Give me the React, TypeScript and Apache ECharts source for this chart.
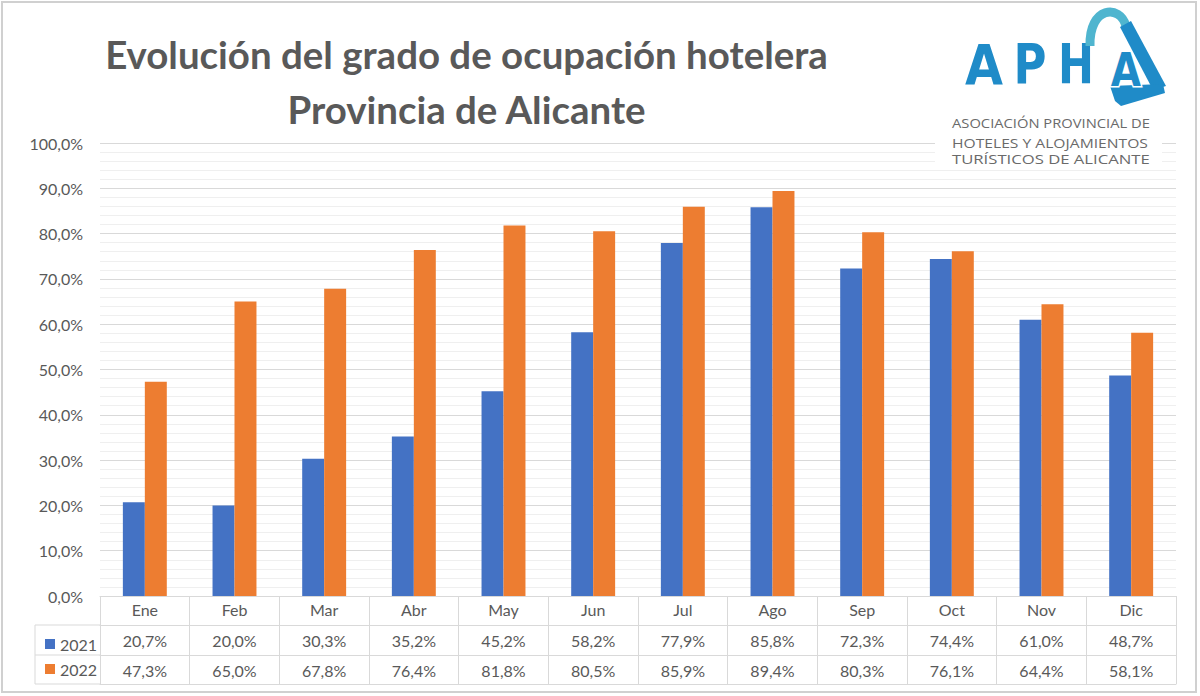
import React, { useEffect, useRef } from "react";
import * as echarts from "echarts";

const months = ["Ene", "Feb", "Mar", "Abr", "May", "Jun", "Jul", "Ago", "Sep", "Oct", "Nov", "Dic"];
const values2021 = [20.7, 20.0, 30.3, 35.2, 45.2, 58.2, 77.9, 85.8, 72.3, 74.4, 61.0, 48.7];
const values2022 = [47.3, 65.0, 67.8, 76.4, 81.8, 80.5, 85.9, 89.4, 80.3, 76.1, 64.4, 58.1];
const seriesNames = ["2021", "2022"];
const titleLines = ["Evolución del grado de ocupación hotelera", "Provincia de Alicante"];
const logoLetters = ["A", "P", "H"];
const logoLines = ["ASOCIACIÓN PROVINCIAL DE", "HOTELES Y ALOJAMIENTOS", "TURÍSTICOS DE ALICANTE"];

const fmt = (v: number) => v.toFixed(1).replace(".", ",") + "%";

function measure(text: string, font: string): number {
  const c = document.createElement("canvas").getContext("2d");
  if (!c) return 1;
  c.font = font;
  return c.measureText(text).width || 1;
}

const TXT = "#595959";
const GRIDC = "#d9d9d9";
const FONT = "Lato, 'Open Sans', sans-serif";
const LOGO_BLUE = "#1f8bc8";

export default function App() {
  const ref = useRef<HTMLDivElement>(null);
  useEffect(() => {
    if (!ref.current) return;
    const chart = echarts.init(ref.current, null, { renderer: "svg" });

    const titleFont = "bold 39px Lato";
    const tScale = 723 / measure(titleLines[0], titleFont);
    const logoTargets = [198, 196, 198];
    const letterTargets = [38, 33, 36];

    const graphic: any[] = [
      {
        type: "rect",
        shape: { x: 2, y: 2, width: 1194, height: 690 },
        style: { fill: "none", stroke: "#d0d0d0", lineWidth: 2 },
        z: 100,
      },
      ...titleLines.map((t, i) => ({
        type: "text",
        x: 466.5,
        y: i === 0 ? 34 : 89,
        scaleX: tScale,
        z: 100,
        style: {
          text: t,
          fontFamily: "Lato",
          fontWeight: "bold",
          fontSize: 39,
          fill: TXT,
          textAlign: "center",
          align: "center",
          textVerticalAlign: "top",
          verticalAlign: "top",
        },
      })),
      // logo background
      {
        type: "rect",
        shape: { x: 935, y: 8, width: 227, height: 162 },
        style: { fill: "#ffffff" },
        z: 100,
      },
      ...logoLetters.map((l, i) => ({
        type: "text",
        x: [984, 1030, 1076][i],
        y: 64,
        scaleX: letterTargets[i] / measure(l, "bold 56px DejaVu Sans"),
        z: 101,
        style: {
          text: l,
          fontFamily: "DejaVu Sans",
          fontWeight: "bold",
          fontSize: 56,
          fill: LOGO_BLUE,
          textAlign: "center",
          align: "center",
          textVerticalAlign: "middle",
          verticalAlign: "middle",
        },
      })),
      {
        type: "bezierCurve",
        shape: { x1: 1090, y1: 46, x2: 1126, y2: 26, cpx1: 1089, cpy1: 6, cpx2: 1120, cpy2: 4 },
        style: { fill: "none", stroke: "#4fb5cf", lineWidth: 9 },
        z: 101,
      },
      {
        type: "polygon",
        shape: { points: [[1120, 27], [1131, 21], [1166, 86], [1153, 90]] },
        style: { fill: LOGO_BLUE },
        z: 101,
      },
      {
        type: "polygon",
        shape: { points: [[1110, 86], [1163, 84], [1165, 93], [1121, 106], [1115, 101]] },
        style: { fill: LOGO_BLUE },
        z: 101,
      },
      {
        type: "text",
        x: 1126,
        y: 70,
        scaleX: 0.85,
        z: 102,
        style: {
          text: "A",
          fontFamily: "DejaVu Sans",
          fontWeight: "bold",
          fontSize: 46,
          fill: LOGO_BLUE,
          stroke: "#ffffff",
          lineWidth: 3,
          textAlign: "center",
          align: "center",
          textVerticalAlign: "middle",
          verticalAlign: "middle",
        },
      },
      ...logoLines.map((t, i) => ({
        type: "text",
        x: 952,
        y: [123, 142, 159][i],
        scaleX: logoTargets[i] / measure(t, "13.5px Open Sans"),
        z: 101,
        style: {
          text: t,
          fontFamily: "Open Sans",
          fontSize: 13.5,
          fill: "#6a6a6a",
          textAlign: "left",
          align: "left",
          textVerticalAlign: "middle",
          verticalAlign: "middle",
        },
      })),
      // left part of data table
      ...[625, 655, 684].map((y) => ({
        type: "line",
        shape: { x1: 35, y1: y, x2: 100, y2: y },
        style: { stroke: GRIDC, lineWidth: 1 },
        z: 50,
      })),
      {
        type: "line",
        shape: { x1: 35, y1: 625, x2: 35, y2: 684 },
        style: { stroke: GRIDC, lineWidth: 1 },
        z: 50,
      },
    ];

    const tableAxis = (data: string[], offset: number, showLabel: boolean) => ({
      type: "category",
      data,
      position: "bottom",
      offset,
      axisLine: { show: true, lineStyle: { color: GRIDC, width: 1 } },
      axisTick: { show: false },
      axisLabel: {
        show: showLabel,
        interval: 0,
        margin: 7,
        fontSize: 16,
        color: TXT,
        fontFamily: FONT,
      },
      splitLine: { show: false },
    });

    chart.setOption({
      animation: false,
      backgroundColor: "#ffffff",
      grid: { left: 100, right: 24, top: 143, bottom: 100, containLabel: false },
      legend: {
        data: seriesNames,
        orient: "vertical",
        left: 40,
        top: 631,
        itemWidth: 10,
        itemHeight: 10,
        itemGap: 9,
        icon: "rect",
        textStyle: { fontSize: 16, color: TXT, fontFamily: FONT },
      },
      xAxis: [
        {
          type: "category",
          data: months,
          position: "bottom",
          axisLine: { show: true, lineStyle: { color: GRIDC, width: 1 } },
          axisTick: { show: true, length: 88, interval: 0, lineStyle: { color: GRIDC, width: 1 } },
          axisLabel: { interval: 0, margin: 5, fontSize: 16, color: TXT, fontFamily: FONT },
          splitLine: { show: false },
        },
        tableAxis(values2021.map(fmt), 29, true),
        tableAxis(values2022.map(fmt), 59, true),
        tableAxis(months, 88, false),
      ],
      yAxis: {
        type: "value",
        min: 0,
        max: 100,
        interval: 10,
        axisLine: { show: false },
        axisTick: { show: false },
        axisLabel: { formatter: (v: number) => fmt(v), fontSize: 16, color: TXT, fontFamily: FONT, margin: 17 },
        splitLine: { show: true, lineStyle: { color: GRIDC, width: 1 } },
        minorTick: { show: false, splitNumber: 5 },
        minorSplitLine: { show: true, lineStyle: { color: "#efefef", width: 1 } },
      },
      series: [
        {
          name: seriesNames[0],
          type: "bar",
          xAxisIndex: 0,
          data: values2021,
          itemStyle: { color: "#4472c4" },
          barGap: "0%",
          barCategoryGap: "51%",
        },
        {
          name: seriesNames[1],
          type: "bar",
          xAxisIndex: 0,
          data: values2022,
          itemStyle: { color: "#ed7d31" },
          barGap: "0%",
          barCategoryGap: "51%",
        },
      ],
      graphic,
    });
    return () => chart.dispose();
  }, []);
  return (
    <div
      ref={ref}
      style={{ position: "fixed", left: 0, top: 0, width: 1200, height: 696, background: "#fff" }}
    />
  );
}
